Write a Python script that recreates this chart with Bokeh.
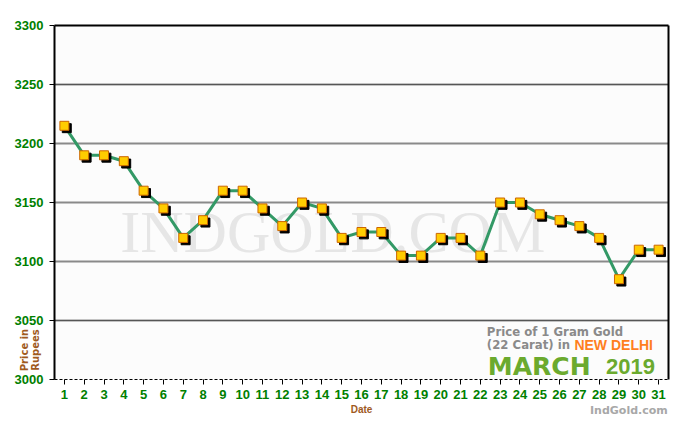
from bokeh.plotting import figure
from bokeh.models import (Range1d, FixedTicker, Grid, LinearAxis, Label,
                          ColumnDataSource)
from bokeh.transform import dodge
from bokeh.embed import file_html
from bokeh.resources import INLINE

# ---- data ----
dates = list(range(1, 32))
prices = [3215, 3190, 3190, 3185, 3160, 3145, 3120, 3135, 3160, 3160,
          3145, 3130, 3150, 3145, 3120, 3125, 3125, 3105, 3105, 3120,
          3120, 3105, 3150, 3150, 3140, 3135, 3130, 3120, 3085, 3110, 3110]
y_ticks = [3000, 3050, 3100, 3150, 3200, 3250, 3300]
solid_grid = [3100, 3150, 3200]
dotted_grid = [3050, 3250]

src = ColumnDataSource(dict(x=dates, y=prices))

p = figure(width=684, height=424, output_backend="svg", toolbar_location=None,
           x_range=Range1d(0.5, 31.5), y_range=Range1d(3000, 3300),
           min_border_left=54, min_border_right=16, min_border_top=25,
           min_border_bottom=45, background_fill_color="#FCFCFC",
           border_fill_color="white")
p.outline_line_color = None

# grids
p.xgrid.visible = False
p.ygrid.visible = False
g1 = Grid(dimension=1, ticker=FixedTicker(ticks=solid_grid + dotted_grid),
          grid_line_color="#8A8A8A", grid_line_width=2)
g2 = Grid(dimension=1, ticker=FixedTicker(ticks=dotted_grid),
          grid_line_color="#222222", grid_line_width=1, grid_line_dash="1 1")
p.add_layout(g1)
p.add_layout(g2)

# axes
green = "#008000"
brown = "#A05A1E"
xa = p.xaxis[0]
xa.ticker = FixedTicker(ticks=dates)
xa.minor_tick_line_color = None
xa.major_tick_out = 5
xa.major_tick_in = 0
xa.major_tick_line_color = "black"
xa.axis_line_color = "black"
xa.axis_line_dash = "3 2"
xa.major_label_text_color = green
xa.major_label_text_font = "Liberation Sans"
xa.major_label_text_font_style = "bold"
xa.major_label_text_font_size = "13px"
xa.major_label_standoff = 5
xa.axis_label = "Date"
xa.axis_label_text_color = brown
xa.axis_label_text_font = "Liberation Sans"
xa.axis_label_text_font_style = "bold"
xa.axis_label_text_font_size = "10px"
xa.axis_label_standoff = 2

ya = p.yaxis[0]
ya.ticker = FixedTicker(ticks=y_ticks)
ya.minor_tick_line_color = None
ya.major_tick_out = 5
ya.major_tick_in = 0
ya.major_tick_line_color = "black"
ya.axis_line_color = "black"
ya.axis_line_width = 2
ya.major_label_text_color = green
ya.major_label_text_font = "Liberation Sans"
ya.major_label_text_font_style = "bold"
ya.major_label_text_font_size = "13px"
ya.major_label_standoff = 6

# y title: a bare second left axis with one rotated two-line label
title_tick = [3025]
title_axis = LinearAxis(ticker=FixedTicker(ticks=title_tick),
                        axis_line_color=None, major_tick_line_color=None,
                        minor_tick_line_color=None, major_tick_out=0,
                        major_tick_in=0, minor_tick_out=0, minor_tick_in=0,
                        major_label_overrides={title_tick[0]: "Price in\nRupees"},
                        major_label_orientation="vertical",
                        major_label_standoff=-29,
                        major_label_text_color=brown,
                        major_label_text_font="DejaVu Sans",
                        major_label_text_font_style="bold",
                        major_label_text_font_size="10px",
                        major_label_text_line_height=1.0)
p.add_layout(title_axis, "left")

for place in ("above", "right"):
    ax = LinearAxis(ticker=FixedTicker(ticks=[]), axis_line_color="black",
                    axis_line_width=2, major_tick_out=0, major_tick_in=0,
                    minor_tick_out=0, minor_tick_in=0,
                    major_label_text_font_size="0px")
    p.add_layout(ax, place)

# site name under the chart, as a second bottom axis
site_tick = [29.5]
site_axis = LinearAxis(ticker=FixedTicker(ticks=site_tick), axis_line_color=None,
                       major_tick_out=0, major_tick_in=0, minor_tick_out=0,
                       minor_tick_in=0, major_tick_line_color=None,
                       minor_tick_line_color=None,
                       major_label_overrides={site_tick[0]: "IndGold.com"},
                       major_label_text_font="DejaVu Sans",
                       major_label_text_font_style="bold",
                       major_label_text_font_size="11px",
                       major_label_text_color="#A8A8A8",
                       major_label_standoff=-14)
p.add_layout(site_axis, "below")

# watermark
p.add_layout(Label(x=14.55, y=3125, text="INDGOLD.COM", text_font="Liberation Serif",
                   text_font_size="60px", text_color="#E6E6E6", text_align="center",
                   text_baseline="middle", level="underlay"))

# series
p.line("x", "y", source=src, line_color="#339966", line_width=3)
p.scatter(dodge("x", 0.12, range=p.x_range), dodge("y", -2.0, range=p.y_range),
          source=src, marker="square", size=9, fill_color="black", line_color="black")
p.scatter("x", "y", source=src, marker="square", size=9, fill_color="#FFCC00",
          line_color="#CC6600", line_width=1)

# legend block
grey = "#8A8A8A"
p.add_layout(Label(x=22.33, y=3040, text="Price of 1 Gram Gold", text_font="DejaVu Sans",
                   text_font_style="bold", text_font_size="11.7px", text_color=grey,
                   text_align="left", text_baseline="middle"))
p.add_layout(Label(x=22.33, y=3029.4, text="(22 Carat) in", text_font="DejaVu Sans",
                   text_font_style="bold", text_font_size="11.7px", text_color=grey,
                   text_align="left", text_baseline="middle"))
p.add_layout(Label(x=26.75, y=3029.4, text="NEW DELHI", text_font="Liberation Sans",
                   text_font_style="bold", text_font_size="14px", text_color="#FF7F1E",
                   text_align="left", text_baseline="middle"))
p.add_layout(Label(x=22.38, y=3011.4, text="MARCH", text_font="DejaVu Sans",
                   text_font_style="bold", text_font_size="25px", text_color="#6BAA2E",
                   text_align="left", text_baseline="middle"))
p.add_layout(Label(x=28.35, y=3011.4, text="2019", text_font="Liberation Sans",
                   text_font_style="bold", text_font_size="22px", text_color="#6BAA2E",
                   text_align="left", text_baseline="middle"))

open("out.html", "w").write(file_html(p, INLINE))
